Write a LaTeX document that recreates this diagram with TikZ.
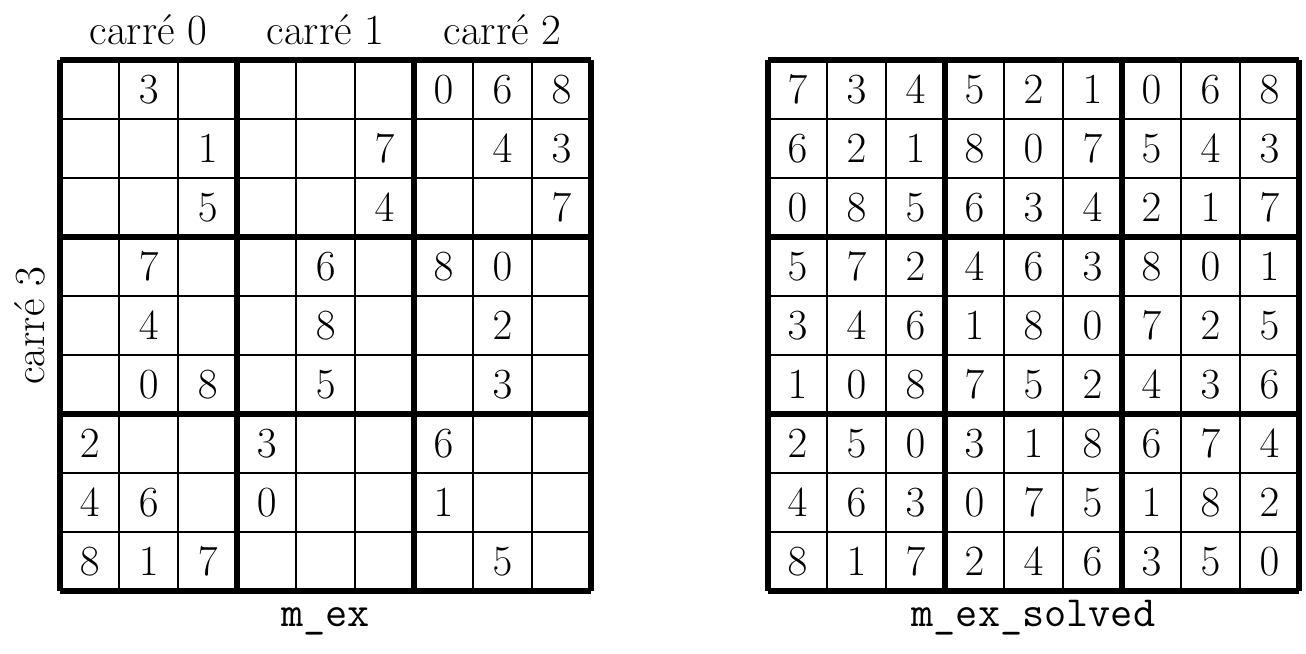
\documentclass[tikz,border=0pt]{standalone}
\usepackage{tikz}
\usetikzlibrary{matrix}

\begin{document}
\begin{tikzpicture}[
	thinline/.style={line width=.8pt},
	thickline/.style={line width=2.9pt},
	label/.style={anchor=base,font=\huge},
	]
	\useasboundingbox (-1.02,-1.05) rectangle (21.12,10.02);
	
	\coordinate (O1) at (4.5,4.5);   % the centre of m_ex
	\coordinate (O2) at (16.5,4.5);  % the centre of m_ex_solved
	
	% the two grids
	\foreach \x in {0,12}{
		\foreach \i in {1,2,4,5,7,8}
			\draw[thinline] (\x+\i,0)--(\x+\i,9) (\x,\i)--(\x+9,\i);
		\foreach \i in {0,3,6,9}
			\draw[thickline] (\x+\i,0)--(\x+\i,9) (\x,\i)--(\x+9,\i);
	}
	
	\matrix [matrix of math nodes,
		nodes in empty cells,
		inner sep=0pt,
		nodes={anchor=center,minimum size=1cm,inner sep=0pt,font=\huge},
		](M1) at (O1) {
		  &3 &  &  &  &  &0 &6 &8\\
		  &  &1 &  &  &7 &  &4 &3\\
		  &  &5 &  &  &4 &  &  &7\\
		  &7 &  &  &6 &  &8 &0 &  \\
		  &4 &  &  &8 &  &  &2 &  \\
		  &0 &8 &  &5 &  &  &3 &  \\
		2 &  &  &3 &  &  &6 &  &  \\
		4 &6 &  &0 &  &  &1 &  &  \\
		8 &1 &7 &  &  &  &  &5 &  \\
	};
	\matrix [matrix of math nodes,
	nodes in empty cells,
	inner sep=0pt,
	nodes={anchor=center,minimum size=1cm,inner sep=0pt,font=\huge},
	](M2) at (O2) {
		7 &3 &4 &5 &2 &1 &0 &6 &8\\
		6 &2 &1 &8 &0 &7 &5 &4 &3\\
		0 &8 &5 &6 &3 &4 &2 &1 &7\\
		5 &7 &2 &4 &6 &3 &8 &0 &1\\
		3 &4 &6 &1 &8 &0 &7 &2 &5\\
		1 &0 &8 &7 &5 &2 &4 &3 &6\\
		2 &5 &0 &3 &1 &8 &6 &7 &4\\
		4 &6 &3 &0 &7 &5 &1 &8 &2\\
		8 &1 &7 &2 &4 &6 &3 &5 &0\\
	};
	
	\node[label] (C0) at (1.5,9.27) {carré 0};
	\node[label] (C1) at (4.5,9.27) {carré 1};
	\node[label] (C2) at (7.5,9.27) {carré 2};
	\node[label,rotate=90] (C3) at (-.27,4.5) {carré 3};
	
	\node[label,font=\huge\ttfamily] (N1) at (O1|-0,-.6) {m\_ex};
	\node[label,font=\huge\ttfamily] (N2) at (O2|-0,-.6) {m\_ex\_solved};
	
\end{tikzpicture}
\end{document}
